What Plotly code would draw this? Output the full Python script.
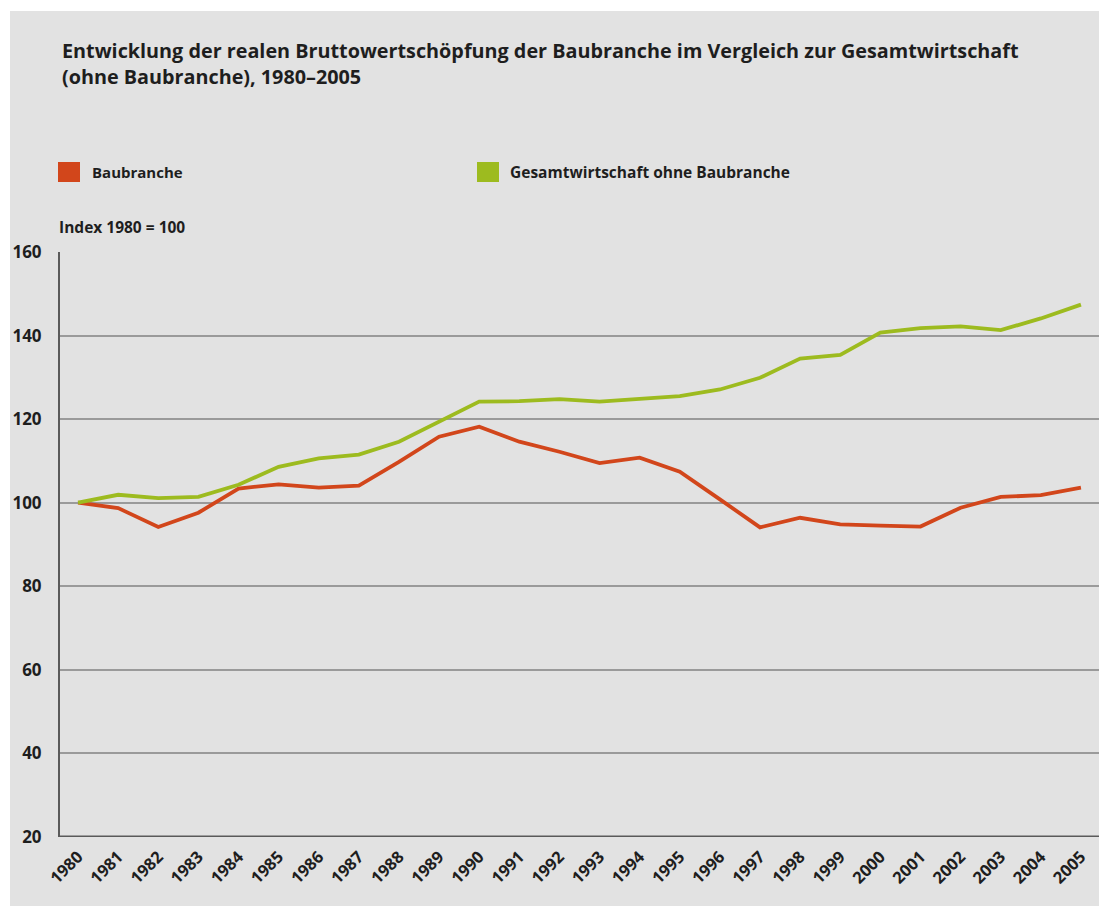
import plotly.graph_objects as go

years = list(range(1980, 2006))
bau = [100, 98.7, 94.2, 97.6, 103.4, 104.4, 103.6, 104.1, 109.8, 115.8, 118.2, 114.6, 112.2,
       109.5, 110.8, 107.4, 100.8, 94.1, 96.4, 94.8, 94.5, 94.3, 98.8, 101.4, 101.8, 103.6]
gesamt = [100, 101.9, 101.1, 101.4, 104.3, 108.6, 110.6, 111.5, 114.6, 119.5, 124.2, 124.3, 124.8,
          124.2, 124.9, 125.5, 127.1, 129.9, 134.5, 135.4, 140.7, 141.8, 142.2, 141.3, 144.1, 147.4]
y_ticks = [20, 40, 60, 80, 100, 120, 140, 160]
series_names = ["Baubranche", "Gesamtwirtschaft ohne Baubranche"]
title_lines = ["Entwicklung der realen Bruttowertschöpfung der Baubranche im Vergleich zur Gesamtwirtschaft",
               "(ohne Baubranche), 1980–2005"]
unit_label = "Index 1980 = 100"

ORANGE = "#d2461b"
GREEN = "#9dbb1f"
BG = "#e2e2e2"
FONT = "Open Sans"
TXT = "#1e1e1e"

W, H = 1099, 906
L, R, T, B = 60, 0, 252, 69
pw, ph = W - L - R, H - T - B


def px(x):
    return (x - L) / pw


def py(y):
    return (H - B - y) / ph


fig = go.Figure()
fig.add_trace(go.Scatter(x=years, y=bau, mode="lines", name=series_names[0],
                         line=dict(color=ORANGE, width=3.8), showlegend=False))
fig.add_trace(go.Scatter(x=years, y=gesamt, mode="lines", name=series_names[1],
                         line=dict(color=GREEN, width=3.8), showlegend=False))

shapes = [
    # white border strips
    dict(type="rect", xref="paper", yref="paper", x0=px(0), x1=px(W), y0=py(0), y1=py(11),
         fillcolor="white", line=dict(width=0), layer="below"),
    dict(type="rect", xref="paper", yref="paper", x0=px(0), x1=px(10), y0=py(H), y1=py(0),
         fillcolor="white", line=dict(width=0), layer="below"),
    # legend squares
    dict(type="rect", xref="paper", yref="paper", x0=px(58), x1=px(80), y0=py(182), y1=py(162),
         fillcolor=ORANGE, line=dict(width=0)),
    dict(type="rect", xref="paper", yref="paper", x0=px(477), x1=px(499), y0=py(182), y1=py(162),
         fillcolor=GREEN, line=dict(width=0)),
]

annotations = [
    dict(text="<b>" + title_lines[0] + "<br>" + title_lines[1] + "</b>", xref="paper", yref="paper",
         x=px(60), y=py(35), xanchor="left", yanchor="top", align="left", showarrow=False,
         font=dict(family=FONT, size=19.8, color=TXT)),
    dict(text="<b>" + series_names[0] + "</b>", xref="paper", yref="paper",
         x=px(90), y=py(172), xanchor="left", yanchor="middle", showarrow=False,
         font=dict(family=FONT, size=15, color=TXT)),
    dict(text="<b>" + series_names[1] + "</b>", xref="paper", yref="paper",
         x=px(508), y=py(172), xanchor="left", yanchor="middle", showarrow=False,
         font=dict(family=FONT, size=15.5, color=TXT)),
    dict(text="<b>" + unit_label + "</b>", xref="paper", yref="paper",
         x=px(57), y=py(227), xanchor="left", yanchor="middle", showarrow=False,
         font=dict(family=FONT, size=15.5, color=TXT)),
]

fig.update_layout(
    width=W, height=H,
    margin=dict(l=L, r=R, t=T, b=B, pad=0),
    paper_bgcolor=BG, plot_bgcolor=BG,
    shapes=shapes, annotations=annotations,
    showlegend=False,
)
fig.update_xaxes(
    range=[1979.55, 2005.45], tickvals=years, ticktext=["<b>%d</b>" % y for y in years],
    tickangle=-45, tickfont=dict(family=FONT, size=16.5, color=TXT),
    showgrid=False, zeroline=False, showline=False, ticks="", ticklabelstandoff=6,
)
fig.update_yaxes(
    range=[20, 160], tickvals=y_ticks, ticktext=["<b>%d</b>" % v for v in y_ticks],
    tickfont=dict(family=FONT, size=17, color=TXT),
    showgrid=True, gridcolor="#9a9a9a", gridwidth=2,
    zeroline=False, showline=True, linecolor="#5a5a5a", linewidth=2,
    ticks="", ticklabelstandoff=13,
)
# bottom axis line at 20
fig.add_hline(y=20, line=dict(color="#5a5a5a", width=3))

fig.write_html("out.html", config={"displayModeBar": False},
               post_script="document.body.style.margin='0';document.body.style.overflow='hidden';")
